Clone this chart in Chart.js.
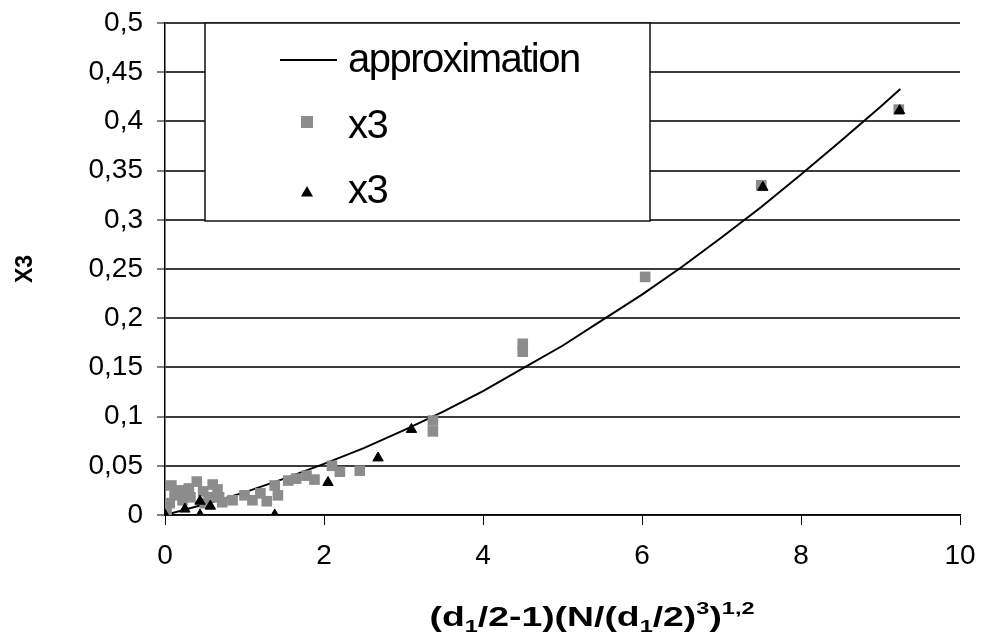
<!DOCTYPE html>
<html>
<head>
<meta charset="utf-8">
<script src="https://cdn.jsdelivr.net/npm/chart.js@4.4.1/dist/chart.umd.min.js"></script>
<style>
  html, body { margin: 0; padding: 0; background: #fff; }
  #wrap { width: 981px; height: 644px; }
</style>
</head>
<body>
<div id="wrap"><canvas id="c" width="981" height="644"></canvas></div>
<script>
// grey squares (x3, first set)
const greyX = [0.02, 0.06, 0.08, 0.12, 0.18, 0.22, 0.25, 0.3, 0.32, 0.4, 0.48, 0.5, 0.55, 0.6, 0.66, 0.68, 0.72, 0.85, 1.0, 1.1, 1.2, 1.28, 1.38, 1.42, 1.55, 1.65, 1.78, 1.88, 2.1, 2.2, 2.45, 3.37, 3.37, 4.5, 4.5, 6.04, 7.5, 9.23];
const greyY = [0.005, 0.012, 0.03, 0.02, 0.025, 0.015, 0.02, 0.027, 0.018, 0.034, 0.024, 0.012, 0.018, 0.031, 0.026, 0.018, 0.013, 0.015, 0.02, 0.015, 0.022, 0.014, 0.03, 0.02, 0.035, 0.037, 0.04, 0.036, 0.05, 0.044, 0.045, 0.096, 0.085, 0.174, 0.166, 0.242, 0.335, 0.412];

// black triangles (x3, second set)
const triX = [0, 0.25, 0.44, 0.44, 0.57, 1.38, 2.05, 2.68, 3.1, 7.52, 9.24];
const triY = [0, 0.006, 0.014, 0, 0.009, 0, 0.033, 0.058, 0.087, 0.333, 0.411];

// approximation curve
const fitX = [0, 0.5, 1, 1.5, 2, 2.5, 3, 3.5, 4, 4.5, 5, 5.5, 6, 6.5, 7, 7.5, 8, 8.5, 9, 9.25];
const fitY = [0, 0.011, 0.023, 0.037, 0.052, 0.068, 0.086, 0.105, 0.126, 0.149, 0.172, 0.198, 0.224, 0.252, 0.282, 0.313, 0.346, 0.38, 0.415, 0.433];

const seriesNames = ['approximation', 'x3', 'x3'];
const xTicks = [0, 2, 4, 6, 8, 10];
const yTitle = 'X3';
// x-axis title pieces: [text, 'n' normal | 'sub' | 'sup']
const xTitleParts = [['(d', 'n'], ['1', 'sub'], ['/2-1)(N/(d', 'n'], ['1', 'sub'], ['/2)', 'n'], ['3', 'sup'], [')', 'n'], ['1,2', 'sup']];

const toPts = (xs, ys) => xs.map((x, i) => ({x: x, y: ys[i]}));
const FONT = "'Liberation Sans', Arial, sans-serif";

const commaFmt = v => String(Number(v.toFixed(2))).replace('.', ',');

// legend box with a border, like the original
const boxLegend = {
  id: 'boxLegend',
  afterDraw(chart) {
    const ctx = chart.ctx;
    const ds = chart.data.datasets;
    ctx.save();
    ctx.fillStyle = '#fff';
    ctx.fillRect(205, 23, 445, 198);
    ctx.strokeStyle = '#111';
    ctx.lineWidth = 1.5;
    ctx.strokeRect(205, 23, 445, 198);

    ctx.font = '40px ' + FONT;
    ctx.letterSpacing = '-1.5px';
    ctx.fillStyle = '#000';
    ctx.textBaseline = 'alphabetic';
    const rows = [72, 138, 203];
    // line sample
    ctx.strokeStyle = ds[0].borderColor;
    ctx.lineWidth = 2;
    ctx.beginPath();
    ctx.moveTo(280, 60);
    ctx.lineTo(337, 60);
    ctx.stroke();
    ctx.fillText(ds[0].label, 348, rows[0]);
    // marker samples
    ctx.fillStyle = ds[1].backgroundColor;
    ctx.fillRect(301, 116, 12, 12);
    ctx.fillStyle = '#000';
    ctx.fillText(ds[1].label, 348, rows[1]);
    ctx.fillStyle = ds[2].backgroundColor;
    ctx.strokeStyle = ds[2].backgroundColor;
    Chart.helpers.drawPoint(ctx, {pointStyle: 'triangle', radius: 5, borderWidth: 1, rotation: 0}, 307, 193);
    ctx.fillStyle = '#000';
    ctx.fillText(ds[2].label, 348, rows[2]);
    ctx.restore();
  }
};

// x-axis title with sub/superscripts
const xTitle = {
  id: 'xTitle',
  afterDraw(chart) {
    const ctx = chart.ctx;
    ctx.save();
    ctx.fillStyle = '#000';
    ctx.textBaseline = 'alphabetic';
    const big = 'bold 27px ' + FONT;
    const small = 'bold 17px ' + FONT;
    let total = 0;
    xTitleParts.forEach(p => {
      ctx.font = p[1] === 'n' ? big : small;
      total += ctx.measureText(p[0]).width;
    });
    const wanted = 325;
    const sx = wanted / total;
    ctx.translate(592 - wanted / 2, 626);
    ctx.scale(sx, 1);
    let x = 0;
    xTitleParts.forEach(p => {
      ctx.font = p[1] === 'n' ? big : small;
      const dy = p[1] === 'sub' ? 6 : (p[1] === 'sup' ? -12 : 0);
      ctx.fillText(p[0], x, dy);
      x += ctx.measureText(p[0]).width;
    });
    ctx.restore();
  }
};

new Chart(document.getElementById('c'), {
  type: 'scatter',
  data: {
    datasets: [
      {
        label: seriesNames[0],
        data: toPts(fitX, fitY),
        showLine: true,
        borderColor: '#000',
        borderWidth: 2,
        pointRadius: 0,
        tension: 0,
        order: 2
      },
      {
        label: seriesNames[1],
        data: toPts(greyX, greyY),
        pointStyle: 'rect',
        pointRadius: 7.5,
        backgroundColor: '#8c8c8c',
        borderColor: '#8c8c8c',
        borderWidth: 0,
        order: 1
      },
      {
        label: seriesNames[2],
        data: toPts(triX, triY),
        pointStyle: 'triangle',
        pointRadius: 6,
        backgroundColor: '#000',
        borderColor: '#000',
        borderWidth: 1,
        order: 0
      }
    ]
  },
  options: {
    responsive: false,
    animation: false,
    layout: { padding: { top: 23, right: 21, left: 0, bottom: 0 } },
    plugins: {
      legend: { display: false },
      tooltip: { enabled: false }
    },
    scales: {
      x: {
        type: 'linear',
        min: 0,
        max: 10,
        afterBuildTicks: s => { s.ticks = xTicks.map(v => ({value: v})); },
        afterFit: s => { s.height = 129; s.paddingLeft = 0; s.paddingRight = 0; },
        border: { display: true, color: '#000', width: 1.5 },
        grid: { drawOnChartArea: false, drawTicks: true, tickLength: 10, tickColor: '#000', tickWidth: 1 },
        ticks: { color: '#000', padding: 14, font: { family: FONT, size: 28 }, maxRotation: 0 },
        title: { display: false }
      },
      y: {
        min: 0,
        max: 0.5,
        afterFit: s => { s.width = 165; s.paddingTop = 0; s.paddingBottom = 0; },
        border: { display: true, color: '#000', width: 1.5 },
        grid: { color: '#3c3c3c', lineWidth: 2, drawTicks: true, tickLength: 8, tickColor: '#000', tickWidth: 1 },
        ticks: { stepSize: 0.05, color: '#000', padding: 14, font: { family: FONT, size: 28 }, callback: v => commaFmt(v) },
        title: { display: true, text: yTitle, color: '#000', padding: { top: 12, bottom: 0 }, font: { family: FONT, size: 23, weight: 'bold' } }
      }
    }
  },
  plugins: [boxLegend, xTitle]
});
</script>
</body>
</html>
